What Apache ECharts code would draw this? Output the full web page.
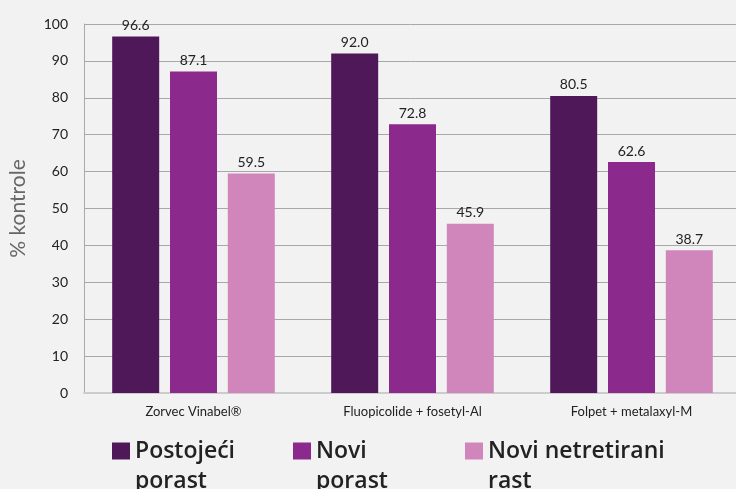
<!DOCTYPE html>
<html>
<head>
<meta charset="utf-8">
<script src="https://cdn.jsdelivr.net/npm/echarts@6/dist/echarts.min.js"></script>
<style>
  html, body { margin: 0; padding: 0; background: #f2f2f2; }
  #chart { width: 736px; height: 489px; }
</style>
</head>
<body>
<div id="chart"></div>
<script>
const categories = ['Zorvec Vinabel®', 'Fluopicolide + fosetyl-Al', 'Folpet + metalaxyl-M'];
const seriesNames = ['Postojeći porast', 'Novi porast', 'Novi netretirani rast'];
// leading empty line keeps the first text line level with the icon
const legendLabels = ['\nPostojeći\nporast', '\nNovi\nporast', '\nNovi netretirani\nrast'];
const postojeci = [96.6, 92.0, 80.5];
const noviPorast = [87.1, 72.8, 62.6];
const netretirani = [59.5, 45.9, 38.7];
const colors = ['#4f1859', '#8c298c', '#d186bb'];
const legendLeft = [112, 293, 465];

const font = 'Lato, "Open Sans", sans-serif';
const legendFont = '"Open Sans", Lato, sans-serif';
const chart = echarts.init(document.getElementById('chart'));

const values = [postojeci, noviPorast, netretirani];

chart.setOption({
  backgroundColor: '#f2f2f2',
  textStyle: { fontFamily: font },
  grid: { left: 84, top: 24, width: 657, height: 369, outerBoundsMode: 'none', containLabel: false },
  legend: seriesNames.map((name, i) => ({
    data: [name],
    left: legendLeft[i],
    top: 406,
    padding: 0,
    itemWidth: 18,
    itemHeight: 17,
    itemGap: 0,
    icon: 'rect',
    formatter: () => legendLabels[i],
    textStyle: {
      fontFamily: legendFont,
      fontSize: 23,
      fontWeight: 600,
      color: '#222',
      lineHeight: 30,
    },
  })),
  xAxis: {
    type: 'category',
    data: categories,
    axisLine: { lineStyle: { color: '#cccccc', width: 2 } },
    axisTick: { show: false },
    axisLabel: { color: '#222', fontSize: 13, margin: 12 },
  },
  yAxis: {
    type: 'value',
    min: 0,
    max: 100,
    interval: 10,
    name: '% kontrole',
    nameLocation: 'middle',
    nameGap: 55,
    nameTextStyle: { color: '#666', fontSize: 21, fontFamily: font },
    axisLine: { show: true, lineStyle: { color: '#aaaaaa' } },
    axisTick: { show: false },
    axisLabel: { color: '#222', fontSize: 14, margin: 16 },
    splitLine: { lineStyle: { color: '#a8a8a8', width: 1 } },
  },
  series: seriesNames.map((name, i) => ({
    name: name,
    type: 'bar',
    data: values[i],
    barWidth: 47,
    barGap: '23%',
    itemStyle: { color: colors[i] },
    label: {
      show: true,
      position: 'top',
      distance: 4,
      color: '#222',
      fontSize: 14,
      formatter: (p) => p.value.toFixed(1),
    },
  })),
});
</script>
</body>
</html>
